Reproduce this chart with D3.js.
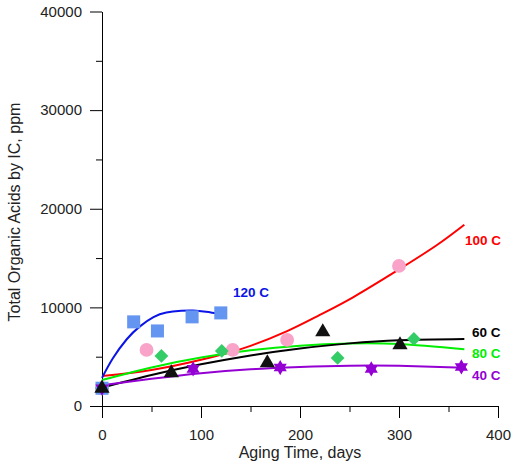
<!DOCTYPE html>
<html>
<head>
<meta charset="utf-8">
<script src="https://cdn.jsdelivr.net/npm/d3@7"></script>
<style>
  body { margin: 0; background: #fff; }
  text { font-family: Arial, "Liberation Sans", sans-serif; }
</style>
</head>
<body>
<div id="graph"></div>
<script>
// measured points, days / ppm
const days120 = [0, 32, 56, 91, 120];
const vals120 = [1800, 8530, 7610, 9040, 9440];
const days100 = [0, 45, 132, 187, 300];
const vals100 = [1800, 5690, 5690, 6700, 14200];
const days80 = [0, 60, 121, 238, 315];
const vals80 = [1800, 5080, 5580, 4870, 6800];
const days60 = [0, 70, 167, 223, 301];
const vals60 = [1800, 3350, 4370, 7510, 6190];
const days40 = [0, 92, 180, 272, 363];
const vals40 = [1800, 3760, 3900, 3760, 3960];

// fitted curves
const fitDays120 = [0, 11, 25, 38, 52, 65, 80, 92, 105, 120];
const fit120 = [2850, 4840, 6770, 8050, 9000, 9470, 9650, 9680, 9560, 9330];
const fitDays100 = [0, 50, 100, 129, 150, 187, 220, 254, 300, 338, 366];
const fit100 = [3050, 3650, 4680, 5450, 6100, 7600, 9240, 11050, 13850, 16300, 18380];
const fitDays = [0, 50, 100, 150, 200, 250, 300, 366];
const fit80 = [2640, 3910, 4910, 5650, 6120, 6340, 6280, 5750];
const fit60 = [1850, 3140, 4230, 5130, 5840, 6350, 6670, 6800];
const fit40 = [2100, 2760, 3330, 3720, 3950, 4080, 4070, 3870];

const xTicks = [0, 100, 200, 300, 400];
const xMinor = [50, 150, 250, 350];
const yTicks = [0, 10000, 20000, 30000, 40000];
const yMinor = [5000, 15000, 25000, 35000];

const svgWidth = 511;
const svgHeight = 469;

const svg = d3.select('#graph')
  .append('svg')
  .attr('width', svgWidth)
  .attr('height', svgHeight);

const x = d3.scaleLinear().domain([0, 400]).range([102, 498]);
const y = d3.scaleLinear().domain([0, 40000]).range([406, 11.5]);

// axes
const gy = svg.append('g').attr('transform', 'translate(102,0)');
gy.call(d3.axisLeft(y).tickValues(yTicks).tickSize(12).tickSizeOuter(0).tickPadding(8).tickFormat(d3.format('d')));
gy.append('g').call(d3.axisLeft(y).tickValues(yMinor).tickSize(6).tickFormat(''))
  .select('.domain').remove();

const gx = svg.append('g').attr('transform', 'translate(0,406)');
gx.call(d3.axisBottom(x).tickValues(xTicks).tickSize(12).tickSizeOuter(0).tickPadding(11));
gx.append('g').call(d3.axisBottom(x).tickValues(xMinor).tickSize(6).tickFormat(''))
  .select('.domain').remove();

svg.selectAll('.tick text').attr('font-size', 15).attr('font-family', 'Arial, "Liberation Sans", sans-serif').attr('fill', '#222');
svg.selectAll('.domain, .tick line').attr('stroke', '#000');

// axis titles
svg.append('text')
  .attr('x', 300).attr('y', 458)
  .attr('text-anchor', 'middle')
  .attr('font-size', 16)
  .attr('fill', '#222')
  .text('Aging Time, days');

svg.append('text')
  .attr('transform', 'translate(20,212) rotate(-90)')
  .attr('text-anchor', 'middle')
  .attr('font-size', 16)
  .attr('fill', '#222')
  .text('Total Organic Acids by IC, ppm');

// fit curves
const line = d3.line()
  .x(d => x(d[0]))
  .y(d => y(d[1]))
  .curve(d3.curveNatural);

const curves = [
  { days: fitDays100, vals: fit100, color: '#ff0000' },
  { days: fitDays120, vals: fit120, color: '#0a14e6' },
  { days: fitDays, vals: fit80, color: '#00ee00' },
  { days: fitDays, vals: fit60, color: '#000000' },
  { days: fitDays, vals: fit40, color: '#9400d3' }
];

svg.append('g').selectAll('path')
  .data(curves)
  .join('path')
  .attr('d', c => line(d3.zip(c.days, c.vals)))
  .attr('fill', 'none')
  .attr('stroke', c => c.color)
  .attr('stroke-width', 2);

// six-pointed star
const hexagram = {
  draw(context, size) {
    const R = Math.sqrt(size) * 0.62;
    const r = R / Math.sqrt(3);
    for (let i = 0; i < 12; i++) {
      const a = -Math.PI / 2 + i * Math.PI / 6;
      const rr = i % 2 === 0 ? R : r;
      if (i === 0) context.moveTo(rr * Math.cos(a), rr * Math.sin(a));
      else context.lineTo(rr * Math.cos(a), rr * Math.sin(a));
    }
    context.closePath();
  }
};

const series = [
  { days: days100, vals: vals100, color: '#f9a3c9', symbol: d3.symbolCircle, size: 150, rotate: 0 },
  { days: days80, vals: vals80, color: '#33cc66', symbol: d3.symbolSquare, size: 95, rotate: 45 },
  { days: days120, vals: vals120, color: '#6495f0', symbol: d3.symbolSquare, size: 170, rotate: 0 },
  { days: days40, vals: vals40, color: '#9400d3', symbol: hexagram, size: 150, rotate: 0 },
  { days: days60, vals: vals60, color: '#111111', symbol: d3.symbolTriangle, size: 100, rotate: 0 }
];

series.forEach(s => {
  svg.append('g').selectAll('path')
    .data(d3.zip(s.days, s.vals))
    .join('path')
    .attr('d', d3.symbol().type(s.symbol).size(s.size))
    .attr('transform', d => `translate(${x(d[0])},${y(d[1])}) rotate(${s.rotate})`)
    .attr('fill', s.color);
});

// curve labels
const labels = [
  { text: '120 C', color: '#0a14e6', px: 233, py: 297 },
  { text: '100 C', color: '#ff0000', px: 465, py: 245 },
  { text: '60 C', color: '#000000', px: 472, py: 337 },
  { text: '80 C', color: '#00ee00', px: 472, py: 358 },
  { text: '40 C', color: '#9400d3', px: 472, py: 380 }
];

svg.append('g').selectAll('text')
  .data(labels)
  .join('text')
  .attr('x', d => d.px)
  .attr('y', d => d.py)
  .attr('font-size', 13.5)
  .attr('font-weight', 'bold')
  .attr('fill', d => d.color)
  .text(d => d.text);
</script>
</body>
</html>
